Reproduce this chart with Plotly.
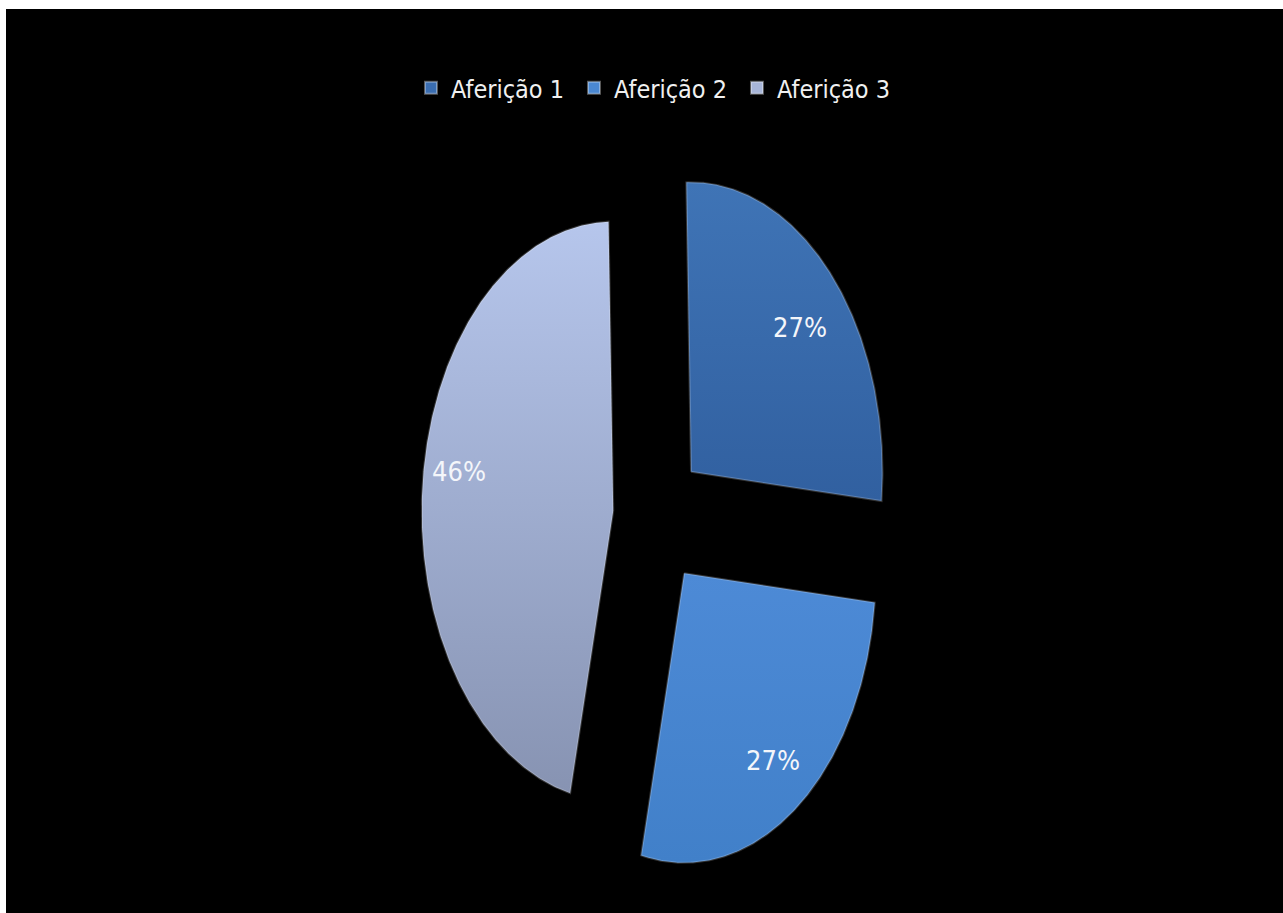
import numpy as np
import plotly.graph_objects as go

# Series data
labels = ["Aferição 1", "Aferição 2", "Aferição 3"]
values = [27, 27, 46]

# Slice styling (vertical gradient: bottom -> top)
fill_bottom = ["#3160a0", "#4180c9", "#8793b2"]
fill_top = ["#3f74b6", "#4d8ad6", "#b6c6ec"]
legend_colors = ["#3a6db0", "#4a88d2", "#a7b5d8"]

# Label placement per slice: (distance from slice corner in radius units,
# angular nudge in degrees)
label_place = [(0.756, 1.7), (0.794, 0.0), (0.817, 3.9)]

START_DEG = -1.4      # first slice starts just left of 12 o'clock, clockwise
EXPLODE = 0.235       # slice offset, in radius units

FONT = "Liberation Sans Narrow, DejaVu Sans Condensed, Arial Narrow, sans-serif"

# Pixel scale of the (vertically stretched) pie
PX_X = 191.5
PX_Y = 289.5
W, H = 1283, 913
ML, MT = 6, 9
CX, CY = 658 - ML, 518 - MT   # pie centre inside the plot area
PW, PH = W - ML, H - MT

fig = go.Figure()

total = float(sum(values))
start = START_DEG
for lab, val, cb, ct, (lr, lnudge) in zip(labels, values, fill_bottom,
                                          fill_top, label_place):
    span = 360.0 * val / total
    end = start + span
    mid_deg = (start + end) / 2
    mid = np.radians(mid_deg)
    ox, oy = EXPLODE * np.sin(mid), EXPLODE * np.cos(mid)
    t = np.radians(np.linspace(start, end, max(int(span * 2), 3)))
    xs = np.concatenate([[ox], ox + np.sin(t), [ox]])
    ys = np.concatenate([[oy], oy + np.cos(t), [oy]])
    fig.add_trace(go.Scatter(
        x=xs, y=ys, mode="lines", fill="toself",
        line=dict(color="rgba(255,255,255,0.2)", width=2),
        fillgradient=dict(type="vertical",
                          colorscale=[[0, cb], [1, ct]]),
        name=lab, showlegend=False, hoverinfo="skip",
    ))
    pct = round(100 * val / total)
    la = np.radians(mid_deg + lnudge)
    fig.add_annotation(
        x=ox + lr * np.sin(la), y=oy + lr * np.cos(la),
        text=f"{pct}%", showarrow=False,
        font=dict(family=FONT, size=27, color="#f4f6fa"),
    )
    start = end

# Legend entries
for lab, col in zip(labels, legend_colors):
    fig.add_trace(go.Scatter(
        x=[None], y=[None], mode="markers", name=lab,
        marker=dict(symbol="square", size=13, color=col,
                    line=dict(color="rgba(255,255,255,0.35)", width=1)),
    ))

fig.update_xaxes(visible=False, range=[-CX / PX_X, (PW - CX) / PX_X], fixedrange=True)
fig.update_yaxes(visible=False, range=[-(PH - CY) / PX_Y, CY / PX_Y], fixedrange=True)

fig.update_layout(
    width=W, height=H,
    margin=dict(l=ML, r=0, t=MT, b=0),
    paper_bgcolor="white",
    plot_bgcolor="black",
    showlegend=True,
    legend=dict(
        orientation="h", x=0.5086, xanchor="center",
        y=1 - (88 - MT) / PH, yanchor="middle",
        font=dict(family=FONT, size=25, color="#f0f0f0"),
        bgcolor="rgba(0,0,0,0)", entrywidth=118, itemsizing="constant",
    ),
)

fig.write_html("out.html")
